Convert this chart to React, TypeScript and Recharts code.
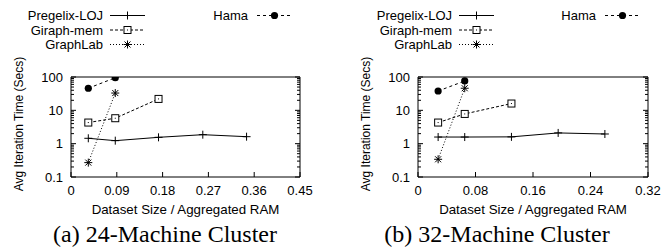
import { LineChart, Line, XAxis, YAxis } from "recharts";

// 24-machine cluster
const pregelixX24 = [0.034, 0.087, 0.172, 0.259, 0.345];
const pregelixY24 = [1.45, 1.23, 1.55, 1.86, 1.62];
const giraphX24 = [0.034, 0.087, 0.172];
const giraphY24 = [4.3, 5.8, 22];
const graphlabX24 = [0.034, 0.087];
const graphlabY24 = [0.27, 33];
const hamaX24 = [0.034, 0.087];
const hamaY24 = [46, 95];

// 32-machine cluster
const pregelixX32 = [0.028, 0.065, 0.13, 0.195, 0.26];
const pregelixY32 = [1.58, 1.58, 1.6, 2.1, 1.95];
const giraphX32 = [0.028, 0.065, 0.13];
const giraphY32 = [4.3, 7.8, 16];
const graphlabX32 = [0.028, 0.065];
const graphlabY32 = [0.34, 46];
const hamaX32 = [0.028, 0.065];
const hamaY32 = [38, 76];

const xTicks24 = [0, 0.09, 0.18, 0.27, 0.36, 0.45];
const xTicks32 = [0, 0.08, 0.16, 0.24, 0.32];
const yMajor = [0.1, 1, 10, 100];
const yMinor = [2, 3, 4, 5, 6, 7, 8, 9];

const seriesNames = ["Pregelix-LOJ", "Giraph-mem", "GraphLab", "Hama"];
const seriesDash = [undefined, "3 2", "1 2", "3 3"];
const seriesMarker = ["plus", "square", "star", "circle"];

const FONT = "'Liberation Sans', Arial, sans-serif";
const yTicks = [
    ...yMajor,
    ...yMajor.slice(0, 3).flatMap((d) => yMinor.map((m) => +(d * m).toPrecision(3))),
].sort((a, b) => a - b);

const zip = (xs: number[], ys: number[]) => xs.map((x, i) => ({ x, y: ys[i] }));

const Marker = ({ kind, cx, cy }: { kind: string; cx: number; cy: number }) => {
    if (cx == null || cy == null) return null;
    const s = 4;
    if (kind === "plus")
        return (
            <g stroke="#000" strokeWidth={1}>
                <line x1={cx - s} x2={cx + s} y1={cy} y2={cy} />
                <line x1={cx} x2={cx} y1={cy - s} y2={cy + s} />
            </g>
        );
    if (kind === "square")
        return (
            <g>
                <rect x={cx - 3.5} y={cy - 3.5} width={7} height={7} fill="#fff" stroke="#000" />
                <rect x={cx - 0.5} y={cy - 0.5} width={1} height={1} fill="#000" />
            </g>
        );
    if (kind === "star")
        return (
            <g stroke="#000" strokeWidth={1}>
                <line x1={cx - s} x2={cx + s} y1={cy} y2={cy} />
                <line x1={cx} x2={cx} y1={cy - s} y2={cy + s} />
                <line x1={cx - 3} x2={cx + 3} y1={cy - 3} y2={cy + 3} />
                <line x1={cx - 3} x2={cx + 3} y1={cy + 3} y2={cy - 3} />
            </g>
        );
    return <circle cx={cx} cy={cy} r={3.6} fill="#000" />;
};

const fmtY = (v: number) => (v < 1 ? "0.1" : String(v));

type PanelProps = {
    series: { x: number; y: number }[][];
    xTicks: number[];
    plotLeft: number;
    plotRight: number;
    legendText: number;
    hamaText: number;
    title: string;
};

const Panel = ({ series, xTicks, plotLeft, plotRight, legendText, hamaText, title }: PanelProps) => {
    const W = 332;
    const H = 251;
    const plotMid = (plotLeft + plotRight) / 2;
    const rows = [15.5, 30, 44.5];
    return (
        <div style={{ position: "relative", width: W, height: H }}>
            <LineChart
                width={W}
                height={H}
                margin={{ top: 76, bottom: 73, left: plotLeft - 1, right: W - plotRight - 1 }}
            >
                <XAxis
                    xAxisId="b"
                    type="number"
                    dataKey="x"
                    domain={[xTicks[0], xTicks[xTicks.length - 1]]}
                    ticks={xTicks}
                    interval={0}
                    height={1}
                    tickSize={0}
                    tickMargin={0}
                    axisLine={{ stroke: "#000" }}
                    tickLine={false}
                    tick={(p: any) => (
                        <g key={p.index}>
                            <line x1={p.x} x2={p.x} y1={p.y} y2={p.y - 5} stroke="#000" />
                            <text x={p.x} y={p.y + 18} textAnchor="middle" fontSize={13} fontFamily={FONT} fill="#000">
                                {p.payload.value}
                            </text>
                        </g>
                    )}
                />
                <XAxis
                    xAxisId="t"
                    orientation="top"
                    type="number"
                    dataKey="x"
                    domain={[xTicks[0], xTicks[xTicks.length - 1]]}
                    ticks={xTicks}
                    interval={0}
                    height={1}
                    tickSize={0}
                    tickMargin={0}
                    axisLine={{ stroke: "#000" }}
                    tickLine={false}
                    tick={(p: any) => (
                        <line key={p.index} x1={p.x} x2={p.x} y1={p.y} y2={p.y + 5} stroke="#000" />
                    )}
                />
                <YAxis
                    yAxisId="l"
                    scale="log"
                    domain={[0.1, 100]}
                    allowDataOverflow
                    ticks={yTicks}
                    interval={0}
                    width={1}
                    tickSize={0}
                    tickMargin={0}
                    axisLine={{ stroke: "#000" }}
                    tickLine={false}
                    tick={(p: any) => {
                        const major = yMajor.includes(p.payload.value);
                        return (
                            <g key={p.index}>
                                <line x1={p.x} x2={p.x + (major ? 5 : 3)} y1={p.y} y2={p.y} stroke="#000" />
                                {major && (
                                    <text x={p.x - 8} y={p.y + 4.5} textAnchor="end" fontSize={13} fontFamily={FONT} fill="#000">
                                        {fmtY(p.payload.value)}
                                    </text>
                                )}
                            </g>
                        );
                    }}
                />
                <YAxis
                    yAxisId="r"
                    orientation="right"
                    scale="log"
                    domain={[0.1, 100]}
                    allowDataOverflow
                    ticks={yTicks}
                    interval={0}
                    width={1}
                    tickSize={0}
                    tickMargin={0}
                    axisLine={{ stroke: "#000" }}
                    tickLine={false}
                    tick={(p: any) => {
                        const major = yMajor.includes(p.payload.value);
                        return <line key={p.index} x1={p.x} x2={p.x - (major ? 5 : 3)} y1={p.y} y2={p.y} stroke="#000" />;
                    }}
                />
                {series.map((data, i) => (
                    <Line
                        key={seriesNames[i]}
                        xAxisId="b"
                        yAxisId="l"
                        data={data}
                        dataKey="y"
                        name={seriesNames[i]}
                        type="linear"
                        stroke="#000"
                        strokeWidth={1}
                        strokeDasharray={seriesDash[i]}
                        isAnimationActive={false}
                        dot={(p: any) => <Marker key={p.index} kind={seriesMarker[i]} cx={p.cx} cy={p.cy} />}
                    />
                ))}
            </LineChart>
            <svg width={W} height={60} style={{ position: "absolute", left: 0, top: 0 }}>
                {seriesNames.map((name, i) => {
                    const textX = i === 3 ? hamaText : legendText;
                    const y = i === 3 ? rows[0] : rows[i];
                    const s0 = textX + (i === 3 ? 9 : 7);
                    const s1 = s0 + 35;
                    return (
                        <g key={name}>
                            <text x={textX} y={y + 4.5} textAnchor="end" fontSize={13} fontFamily={FONT} fill="#000">
                                {name}
                            </text>
                            <line x1={s0} x2={s1} y1={y} y2={y} stroke="#000" strokeDasharray={seriesDash[i]} />
                            <Marker kind={seriesMarker[i]} cx={(s0 + s1) / 2} cy={y} />
                        </g>
                    );
                })}
            </svg>
            <div
                style={{
                    position: "absolute",
                    left: plotMid - 120,
                    width: 240,
                    top: 202,
                    textAlign: "center",
                    fontFamily: FONT,
                    fontSize: 13.3,
                }}
            >
                Dataset Size / Aggregated RAM
            </div>
            <div
                style={{
                    position: "absolute",
                    left: 165 - 150,
                    width: 300,
                    top: 221,
                    textAlign: "center",
                    fontFamily: "'Liberation Serif', 'Times New Roman', serif",
                    fontSize: 24,
                }}
            >
                {title}
            </div>
            <div
                style={{
                    position: "absolute",
                    left: plotLeft - 52 - 73,
                    top: 124 - 8,
                    width: 146,
                    height: 16,
                    lineHeight: "16px",
                    whiteSpace: "nowrap",
                    textAlign: "center",
                    transform: "rotate(-90deg)",
                    fontFamily: FONT,
                    fontSize: 12,
                }}
            >
                Avg Iteration Time (Secs)
            </div>
        </div>
    );
};

export default function App() {
    return (
        <div style={{ position: "absolute", left: 0, top: 0, width: 664, height: 251, display: "flex", background: "#fff" }}>
            <Panel
                series={[
                    zip(pregelixX24, pregelixY24),
                    zip(giraphX24, giraphY24),
                    zip(graphlabX24, graphlabY24),
                    zip(hamaX24, hamaY24),
                ]}
                xTicks={xTicks24}
                plotLeft={71}
                plotRight={300}
                legendText={103}
                hamaText={248}
                title="(a) 24-Machine Cluster"
            />
            <Panel
                series={[
                    zip(pregelixX32, pregelixY32),
                    zip(giraphX32, giraphY32),
                    zip(graphlabX32, graphlabY32),
                    zip(hamaX32, hamaY32),
                ]}
                xTicks={xTicks32}
                plotLeft={86}
                plotRight={316}
                legendText={120}
                hamaText={264}
                title="(b) 32-Machine Cluster"
            />
        </div>
    );
}
